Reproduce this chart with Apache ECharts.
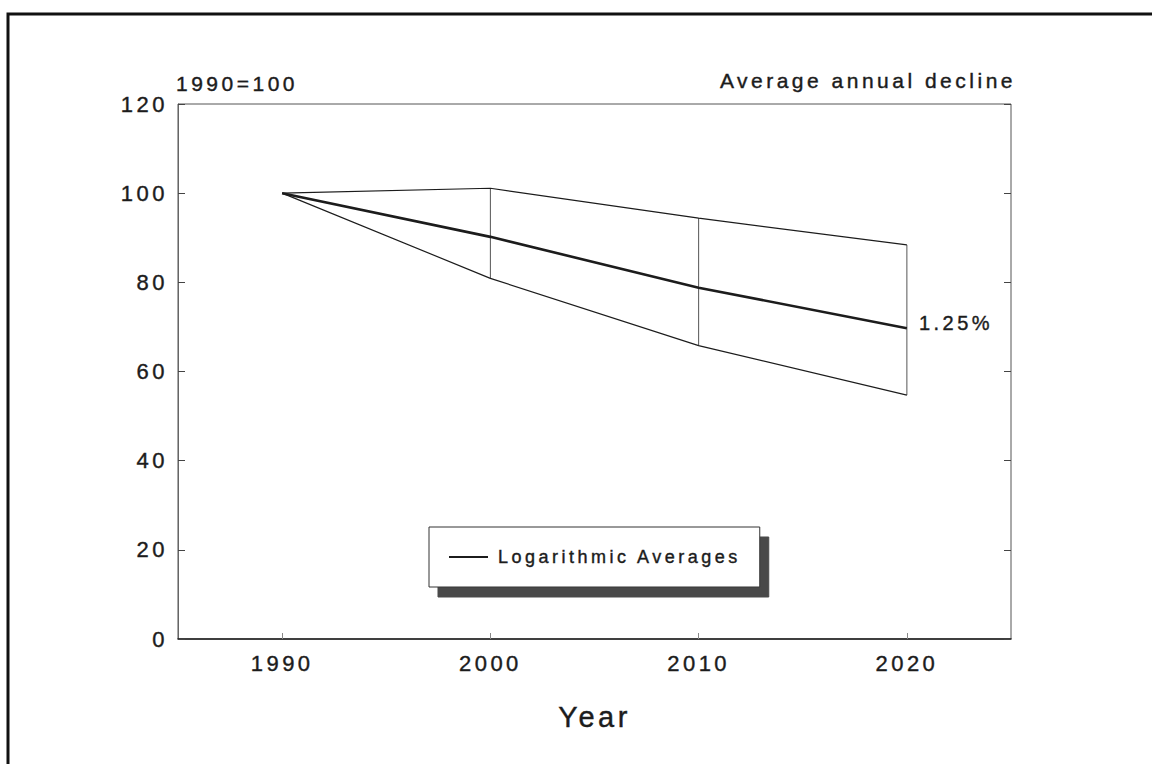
<!DOCTYPE html>
<html>
<head>
<meta charset="utf-8">
<script src="https://cdn.jsdelivr.net/npm/echarts@6/dist/echarts.min.js"></script>
<style>
  html, body { margin: 0; padding: 0; background: #fff; }
  #chart { width: 1152px; height: 764px; }
  /* the scanned original uses very wide, slightly heavy lettering */
  #chart text { letter-spacing: 3.5px; stroke: #1c1c1c; stroke-width: 0.4px; }
</style>
</head>
<body>
<div id="chart"></div>
<script>
// data
const years = [1990, 2000, 2010, 2020];
const upperValues = [100, 101.1, 94.4, 88.4];
const logAverages = [100, 90.2, 78.8, 69.7];
const lowerValues = [100, 80.9, 65.8, 54.7];
const yearTicks = [1990, 2000, 2010, 2020];
const seriesName = 'Logarithmic Averages';
const endNote = '1.25%';
const baseNote = '1990=100';
const cornerNote = 'Average annual decline';

const FONT = '"Liberation Sans", Arial, sans-serif';
const INK = '#1c1c1c';

const pairs = (vals) => years.map((y, i) => [y, vals[i]]);
// vertical connectors between upper and lower bound (skip the common start)
const connectors = years.slice(1).map((y, i) => [y, lowerValues[i + 1], upperValues[i + 1]]);

const chart = echarts.init(document.getElementById('chart'), null, { renderer: 'svg' });

chart.setOption({
  animation: false,
  backgroundColor: '#fff',
  textStyle: { fontFamily: FONT, color: INK },
  grid: {
    left: 178, right: 141, top: 104, bottom: 125,
    show: true, borderColor: '#555', borderWidth: 1
  },
  graphic: [
    {
      // outer frame of the scanned page
      type: 'rect', silent: true,
      shape: { x: 8, y: 14, width: 1170, height: 800 },
      style: { fill: 'none', stroke: '#111', lineWidth: 3 }
    },
    {
      type: 'text', x: 176, y: 83,
      style: { text: baseNote, font: '21px ' + FONT, fill: INK, verticalAlign: 'middle' }
    },
    {
      type: 'text', x: 1016, y: 80,
      style: { text: cornerNote, font: '21px ' + FONT, fill: INK, align: 'right', verticalAlign: 'middle' }
    }
  ],
  legend: {
    data: [{ name: seriesName, icon: 'rect' }],
    left: 429, top: 527,
    itemWidth: 39, itemHeight: 2,
    padding: [21, 88, 21, 20],
    backgroundColor: '#fff',
    borderColor: '#333', borderWidth: 1, borderRadius: 0,
    shadowColor: '#4a4a4a', shadowBlur: 0, shadowOffsetX: 9, shadowOffsetY: 10,
    textStyle: { fontSize: 18, color: INK, padding: [0, 0, 0, 5] },
    selectedMode: false
  },
  xAxis: {
    type: 'value', min: 1985, max: 2025,
    name: 'Year', nameLocation: 'middle', nameGap: 63,
    nameTextStyle: { fontSize: 29, color: INK },
    axisLine: { show: true, lineStyle: { color: INK, width: 1.5 } },
    axisTick: { show: true, inside: true, length: 6, customValues: yearTicks, lineStyle: { color: '#888' } },
    axisLabel: { customValues: yearTicks, fontSize: 22, color: INK, margin: 13, formatter: (v) => String(v) },
    splitLine: { show: false }
  },
  yAxis: [
    {
      type: 'value', min: 0, max: 120, interval: 20,
      axisLine: { show: true, lineStyle: { color: '#666', width: 1 } },
      axisTick: { show: true, inside: true, length: 7, lineStyle: { color: '#444' } },
      axisLabel: { fontSize: 22, color: INK, margin: 10 },
      splitLine: { show: false }
    },
    {
      type: 'value', min: 0, max: 120, interval: 20, position: 'right',
      axisLine: { show: false },
      axisTick: { show: true, inside: true, length: 7, lineStyle: { color: '#444' } },
      axisLabel: { show: false },
      splitLine: { show: false }
    }
  ],
  series: [
    {
      name: 'upper', type: 'line', data: pairs(upperValues),
      symbol: 'none', lineStyle: { color: INK, width: 1.2 }, silent: true
    },
    {
      name: 'lower', type: 'line', data: pairs(lowerValues),
      symbol: 'none', lineStyle: { color: INK, width: 1.2 }, silent: true
    },
    {
      name: 'range', type: 'custom', data: connectors, silent: true,
      encode: { x: 0, y: [1, 2] },
      renderItem: (params, api) => {
        const p0 = api.coord([api.value(0), api.value(1)]);
        const p1 = api.coord([api.value(0), api.value(2)]);
        return {
          type: 'line',
          shape: { x1: p0[0], y1: p0[1], x2: p1[0], y2: p1[1] },
          style: { stroke: '#555', lineWidth: 1 }
        };
      }
    },
    {
      name: seriesName, type: 'line', data: pairs(logAverages),
      symbol: 'none', itemStyle: { color: INK },
      lineStyle: { color: INK, width: 2.6 },
      endLabel: {
        show: true, formatter: endNote, fontSize: 20, color: INK,
        distance: 12, offset: [0, -5]
      }
    }
  ]
});
</script>
</body>
</html>
